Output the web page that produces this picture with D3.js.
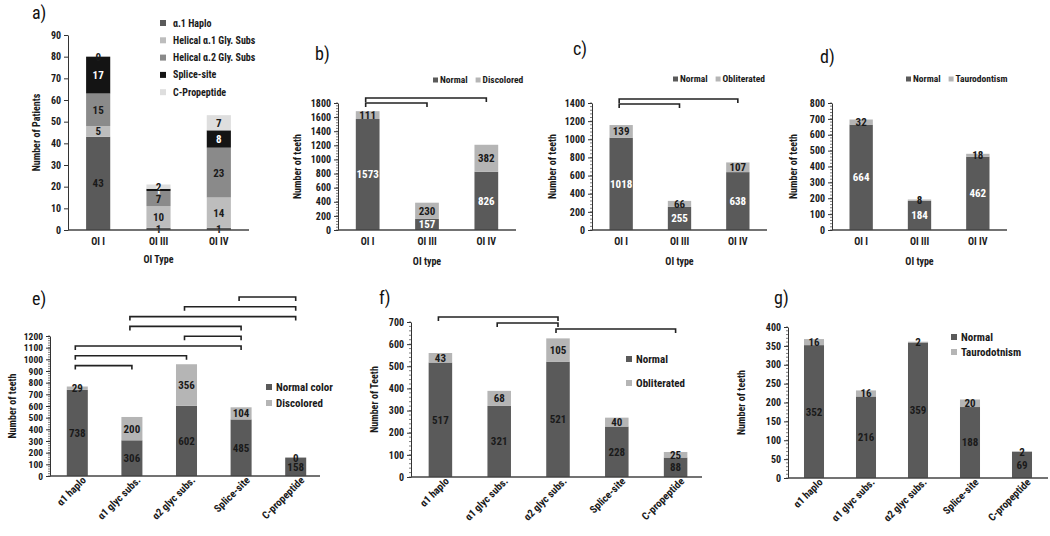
<!DOCTYPE html>
<html>
<head>
<meta charset="utf-8">
<script src="https://cdn.jsdelivr.net/npm/d3@7"></script>
<style>
  body { margin: 0; background: #fff; }
  svg text { font-family: "Liberation Sans Narrow", "Roboto Condensed", "Roboto", sans-serif; }
</style>
</head>
<body>
<svg id="chart" width="1050" height="536"></svg>
<script>
// panel a: patients per OI type, stacked by mutation
const oiTypes = ["OI I", "OI III", "OI IV"];
const mutationNames = ["α.1 Haplo", "Helical α.1 Gly. Subs", "Helical α.2 Gly. Subs", "Splice-site", "C-Propeptide"];
const patientsHaplo = [43, 1, 1];
const patientsA1Gly = [5, 10, 14];
const patientsA2Gly = [15, 7, 23];
const patientsSplice = [17, 1, 8];
const patientsCProp = [0, 2, 7];

// panels b-d: teeth per OI type
const discNormal = [1573, 157, 826];
const discAffected = [111, 230, 382];
const oblitNormal = [1018, 255, 638];
const oblitAffected = [139, 66, 107];
const tauroNormal = [664, 184, 462];
const tauroAffected = [32, 8, 18];

// panels e-g: teeth per mutation group
const mutationGroups = ["α1 haplo", "α1 glyc subs.", "α2 glyc subs.", "Splice-site", "C-propeptide"];
const colorNormal = [738, 306, 602, 485, 158];
const colorDisc = [29, 200, 356, 104, 0];
const pulpNormal = [517, 321, 521, 228, 88];
const pulpOblit = [43, 68, 105, 40, 25];
const rootNormal = [352, 216, 359, 188, 69];
const rootTauro = [16, 16, 2, 20, 2];

// significance brackets (category index pairs), top to bottom
const oiBrackets = [[0, 2], [0, 1]];
const colorBrackets = [[3, 4], [2, 4], [1, 4], [1, 3], [2, 3], [0, 3], [0, 2], [0, 1]];
const pulpBrackets = [[0, 2], [1, 2], [2, 4]];

const dark = "#5a5a5a";
const light = "#b5b5b5";
const ink = "#1a1a1a";

const svg = d3.select("#chart");

function drawPanel(opt) {
  const g = svg.append("g");
  const keys = opt.series.map((s) => s.name);
  const table = opt.categories.map((c, i) => {
    const row = { cat: c };
    opt.series.forEach((s) => { row[s.name] = s.values[i]; });
    return row;
  });
  const stacked = d3.stack().keys(keys)(table);

  const x = d3.scaleBand()
    .domain(opt.categories)
    .range([opt.x0, opt.x1])
    .paddingInner(opt.padding)
    .paddingOuter(opt.padding / 2);
  const y = d3.scaleLinear()
    .domain([0, opt.yMax])
    .range([opt.yBottom, opt.yTop]);

  // minor ticks
  if (opt.minor) {
    const minorTicks = d3.range(0, opt.yMax + 0.001, opt.yStep / opt.minor);
    g.selectAll(".minor")
      .data(minorTicks)
      .enter()
      .append("line")
      .attr("x1", opt.x0 - 2)
      .attr("x2", opt.x0)
      .attr("y1", (d) => y(d))
      .attr("y2", (d) => y(d))
      .attr("stroke", "#444")
      .attr("stroke-width", 0.7);
  }

  // y axis
  const yAxis = g.append("g")
    .attr("transform", `translate(${opt.x0},0)`)
    .call(d3.axisLeft(y)
      .tickValues(d3.range(0, opt.yMax + 0.001, opt.yStep))
      .tickFormat(d3.format("d"))
      .tickSize(4)
      .tickSizeOuter(0)
      .tickPadding(3));
  yAxis.select(".domain").attr("stroke", "#333");
  yAxis.selectAll(".tick line").attr("stroke", "#333");
  yAxis.selectAll(".tick text")
    .attr("font-size", opt.tickFont || 10)
    .attr("font-weight", "bold")
    .attr("fill", ink);

  // bars
  stacked.forEach((layer, si) => {
    const s = opt.series[si];
    g.selectAll(".bar" + si)
      .data(layer)
      .enter()
      .append("rect")
      .attr("x", (d) => x(d.data.cat))
      .attr("width", x.bandwidth())
      .attr("y", (d) => y(d[1]))
      .attr("height", (d) => y(d[0]) - y(d[1]))
      .attr("fill", s.color);
  });
  stacked.forEach((layer, si) => {
    const s = opt.series[si];
    g.selectAll(".lab" + si)
      .data(layer)
      .enter()
      .append("text")
      .text((d) => d.data[s.name])
      .attr("x", (d) => x(d.data.cat) + x.bandwidth() / 2)
      .attr("y", (d) => y((d[0] + d[1]) / 2))
      .attr("dy", "0.36em")
      .attr("text-anchor", "middle")
      .attr("font-size", opt.labelFont || 11)
      .attr("font-weight", "bold")
      .attr("fill", s.labelColor);
  });

  // x axis
  const xAxis = g.append("g")
    .attr("transform", `translate(0,${opt.yBottom})`)
    .call(d3.axisBottom(x).tickSize(0).tickSizeOuter(0).tickPadding(8));
  xAxis.select(".domain")
    .attr("d", `M${opt.x0},0H${opt.xEnd || opt.x1}`)
    .attr("stroke", "#444")
    .attr("stroke-width", 1.5);
  const xt = xAxis.selectAll(".tick text")
    .attr("font-size", opt.rotate ? 10.5 : (opt.tickFont || 10))
    .attr("font-weight", "bold")
    .attr("fill", ink);
  if (opt.rotate) {
    xt.attr("text-anchor", "end")
      .attr("transform", "rotate(-45)")
      .attr("dx", "0.3em")
      .attr("dy", "0.2em");
  }

  // axis titles
  g.append("text")
    .text(opt.yTitle)
    .attr("transform", `translate(${opt.yTitleX},${(opt.yTop + opt.yBottom) / 2}) rotate(-90)`)
    .attr("text-anchor", "middle")
    .attr("font-size", 10)
    .attr("font-weight", "bold")
    .attr("fill", ink);
  if (opt.xTitle) {
    g.append("text")
      .text(opt.xTitle)
      .attr("x", (opt.x0 + opt.x1) / 2)
      .attr("y", opt.xTitleY)
      .attr("text-anchor", "middle")
      .attr("font-size", 10)
      .attr("font-weight", "bold")
      .attr("fill", ink);
  }

  // significance brackets
  if (opt.brackets) {
    opt.brackets.forEach((pair, bi) => {
      const by = opt.bracketTop + bi * opt.bracketGap;
      const xa = x(opt.categories[pair[0]]) + x.bandwidth() / 2 - 2;
      const xb = x(opt.categories[pair[1]]) + x.bandwidth() / 2;
      g.append("path")
        .attr("d", `M${xa},${by + 4}V${by}H${xb}V${by + 4}`)
        .attr("fill", "none")
        .attr("stroke", "#222")
        .attr("stroke-width", 1.6);
    });
  }

  // legend
  const lg = opt.legend;
  if (lg.horizontal) {
    let lx = lg.x;
    opt.series.forEach((s) => {
      g.append("rect")
        .attr("x", lx).attr("y", lg.y - lg.box / 2)
        .attr("width", lg.box).attr("height", lg.box)
        .attr("fill", s.color);
      const t = g.append("text")
        .text(s.name)
        .attr("x", lx + lg.box + 2)
        .attr("y", lg.y)
        .attr("dy", "0.35em")
        .attr("font-size", lg.font)
        .attr("font-weight", "bold")
        .attr("fill", ink);
      lx += lg.box + 2 + t.node().getComputedTextLength() + lg.space;
    });
  } else {
    opt.series.forEach((s, i) => {
      const ly = lg.y + i * lg.gap;
      g.append("rect")
        .attr("x", lg.x).attr("y", ly - lg.box / 2)
        .attr("width", lg.box).attr("height", lg.box)
        .attr("fill", s.color);
      g.append("text")
        .text(s.name)
        .attr("x", lg.x + lg.box + lg.textGap)
        .attr("y", ly)
        .attr("dy", "0.35em")
        .attr("font-size", lg.font)
        .attr("font-weight", "bold")
        .attr("fill", ink);
    });
  }

  // panel letter
  g.append("text")
    .text(opt.letter[0])
    .attr("x", opt.letter[1])
    .attr("y", opt.letter[2])
    .attr("font-size", 18)
    .attr("fill", "#111");
}

// a)
drawPanel({
  categories: oiTypes,
  series: [
    { name: mutationNames[0], values: patientsHaplo, color: dark, labelColor: ink },
    { name: mutationNames[1], values: patientsA1Gly, color: "#bdbdbd", labelColor: ink },
    { name: mutationNames[2], values: patientsA2Gly, color: "#8a8a8a", labelColor: ink },
    { name: mutationNames[3], values: patientsSplice, color: "#141414", labelColor: "#fff" },
    { name: mutationNames[4], values: patientsCProp, color: "#dedede", labelColor: ink }
  ],
  x0: 68, x1: 249, yTop: 35, yBottom: 230, yMax: 90, yStep: 10, padding: 0.6,
  yTitle: "Number of Patients", yTitleX: 40, xTitle: "OI Type", xTitleY: 263,
  legend: { x: 160, y: 23, gap: 17.3, box: 6, textGap: 7, font: 10 },
  letter: ["a)", 32, 19]
});

// b)
drawPanel({
  categories: oiTypes,
  series: [
    { name: "Normal", values: discNormal, color: dark, labelColor: "#fff" },
    { name: "Discolored", values: discAffected, color: light, labelColor: ink }
  ],
  x0: 338, x1: 516, yTop: 103, yBottom: 230, yMax: 1800, yStep: 200, padding: 0.6, minor: 5,
  yTitle: "Number of teeth", yTitleX: 301, xTitle: "OI type", xTitleY: 265,
  brackets: oiBrackets, bracketTop: 98, bracketGap: 5,
  legend: { horizontal: true, x: 433, y: 80, box: 5, font: 9.5, space: 8 },
  letter: ["b)", 315, 60]
});

// c)
drawPanel({
  categories: oiTypes,
  series: [
    { name: "Normal", values: oblitNormal, color: dark, labelColor: "#fff" },
    { name: "Obliterated", values: oblitAffected, color: light, labelColor: ink }
  ],
  x0: 592, x1: 767, yTop: 103, yBottom: 230, yMax: 1400, yStep: 200, padding: 0.6, minor: 5,
  yTitle: "Number of teeth", yTitleX: 556, xTitle: "OI type", xTitleY: 265,
  brackets: oiBrackets, bracketTop: 99, bracketGap: 5,
  legend: { horizontal: true, x: 673, y: 79, box: 5, font: 9.5, space: 8 },
  letter: ["c)", 573, 55]
});

// d)
drawPanel({
  categories: oiTypes,
  series: [
    { name: "Normal", values: tauroNormal, color: dark, labelColor: "#fff" },
    { name: "Taurodontism", values: tauroAffected, color: light, labelColor: ink }
  ],
  x0: 832, x1: 1007, yTop: 103, yBottom: 230, yMax: 800, yStep: 100, padding: 0.6, minor: 5,
  yTitle: "Number of teeth", yTitleX: 797, xTitle: "OI type", xTitleY: 265,
  legend: { horizontal: true, x: 906, y: 79, box: 5, font: 9.5, space: 8 },
  letter: ["d)", 820, 63]
});

// e)
drawPanel({
  categories: mutationGroups,
  series: [
    { name: "Normal color", values: colorNormal, color: dark, labelColor: ink },
    { name: "Discolored", values: colorDisc, color: light, labelColor: ink }
  ],
  x0: 50, x1: 323, xEnd: 320, yTop: 336, yBottom: 476, yMax: 1200, yStep: 100, padding: 0.615, minor: 5,
  tickFont: 9.5, rotate: true,
  yTitle: "Number of teeth", yTitleX: 16,
  brackets: colorBrackets, bracketTop: 297, bracketGap: 9.8,
  legend: { x: 266, y: 387, gap: 16, box: 6, textGap: 4, font: 11 },
  letter: ["e)", 32, 305]
});

// f)
drawPanel({
  categories: mutationGroups,
  series: [
    { name: "Normal", values: pulpNormal, color: dark, labelColor: ink },
    { name: "Obliterated", values: pulpOblit, color: light, labelColor: ink }
  ],
  x0: 411, x1: 705, xEnd: 702, yTop: 322, yBottom: 477, yMax: 700, yStep: 100, padding: 0.6, minor: 5,
  rotate: true,
  yTitle: "Number of Teeth", yTitleX: 378,
  brackets: pulpBrackets, bracketTop: 317, bracketGap: 6,
  legend: { x: 626, y: 359, gap: 24, box: 6, textGap: 4, font: 11 },
  letter: ["f)", 379, 304]
});

// g)
drawPanel({
  categories: mutationGroups,
  series: [
    { name: "Normal", values: rootNormal, color: dark, labelColor: ink },
    { name: "Taurodotnism", values: rootTauro, color: light, labelColor: ink }
  ],
  x0: 788, x1: 1048, yTop: 327, yBottom: 478, yMax: 400, yStep: 50, padding: 0.615, minor: 5,
  rotate: true,
  yTitle: "Number of teeth", yTitleX: 745,
  legend: { x: 951, y: 337, gap: 15, box: 6, textGap: 4, font: 11 },
  letter: ["g)", 774, 304]
});
</script>
</body>
</html>
